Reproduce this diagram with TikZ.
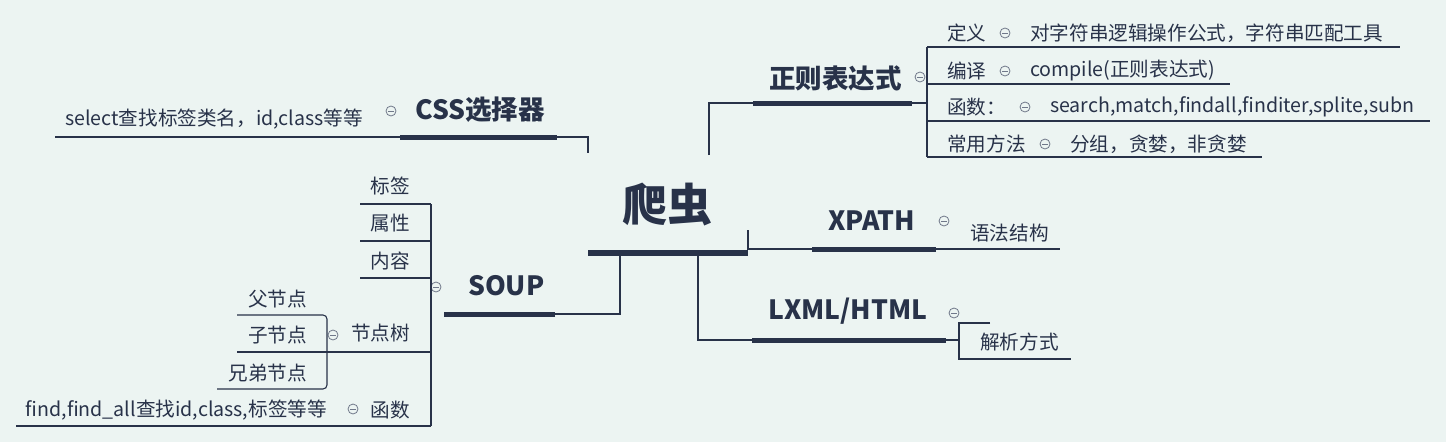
\documentclass[tikz,border=0pt]{standalone}
\usepackage{fontspec}
\setmainfont{Noto Sans CJK SC}
\definecolor{bg}{HTML}{ECF4F2}
\definecolor{ink}{HTML}{283249}
\definecolor{circ}{HTML}{70788A}
\begin{document}
\begin{tikzpicture}[x=1pt,y=-1pt,
 txt/.style={font=\fontsize{19.6}{22}\selectfont, text=ink, inner sep=0pt},
 mainlbl/.style={font=\fontsize{26.5}{28}\selectfont\bfseries, text=ink, inner sep=0pt},
 thinln/.style={draw=ink, line width=1.1pt},
 thickln/.style={draw=ink, line width=5pt},
 toggle/.style={circle, draw=circ, line width=0.8pt, minimum size=10pt, inner sep=0pt,
   path picture={\draw[circ,line width=0.8pt] ([xshift=-2.6pt]path picture bounding box.center) -- ([xshift=2.6pt]path picture bounding box.center);}}
]
\fill[bg] (0,0) rectangle (1446,442);
\useasboundingbox (0,0) rectangle (1446,442);

% ---------- root ----------
\node[font=\fontsize{45}{48}\selectfont\bfseries, text=ink, inner sep=0pt] (root) at (667,205) {爬虫};
\coordinate (rootL) at (588,253);
\coordinate (rootR) at (748,253);
\draw[ink, line width=6pt] (rootL) -- (rootR);

% ---------- CSS ----------
\node[mainlbl, anchor=west] (css) at (415,110) {CSS选择器};
\node[toggle] (cssT) at (391,111) {};
\node[txt, anchor=west] (sel) at (65,119) {select查找标签类名，id,class等等};
\coordinate (cssA) at (400,137);
\coordinate (cssB) at (557,137);
\coordinate (cssC) at (588,137);
\coordinate (cssD) at (588,153);
\coordinate (selL) at (55,137);
\draw[thinln] (selL) -- (cssA);
\draw[thickln] (cssA) -- (cssB);
\draw[thinln] (cssB) -- (cssC) -- (cssD);

% ---------- 正则表达式 ----------
\node[mainlbl, anchor=west] (re) at (769,78) {正则表达式};
\node[toggle] (reT) at (920,77) {};
\coordinate (reA) at (753,103);
\coordinate (reB) at (912,103);
\coordinate (reJ) at (709,103);
\coordinate (reRoot) at (709,155);
\coordinate (reBr) at (927,103);
\draw[thinln] (reRoot) -- (reJ) -- (reA);
\draw[thickln] (reA) -- (reB);
\draw[thinln] (reB) -- (reBr);
\coordinate (r1a) at (927,47);   \coordinate (r1b) at (1400,47);
\coordinate (r2a) at (927,84);   \coordinate (r2b) at (1230,84);
\coordinate (r3a) at (927,121);  \coordinate (r3b) at (1430,121);
\coordinate (r4a) at (927,157);  \coordinate (r4b) at (1262,157);
\draw[thinln] (r1a) -- (r4a);
\draw[thinln] (r1a) -- (r1b);
\draw[thinln] (r2a) -- (r2b);
\draw[thinln] (r3a) -- (r3b);
\draw[thinln] (r4a) -- (r4b);
\node[txt, anchor=west] (d1) at (947,33) {定义};
\node[toggle] (d1T) at (1005,33) {};
\node[txt, anchor=west] (d1v) at (1030,33) {对字符串逻辑操作公式，字符串匹配工具};
\node[txt, anchor=west] (d2) at (947,71) {编译};
\node[toggle] (d2T) at (1005,71) {};
\node[txt, anchor=west] (d2v) at (1030,71) {compile(正则表达式)};
\node[txt, anchor=west] (d3) at (947,107) {函数：};
\node[toggle] (d3T) at (1025,107) {};
\node[txt, anchor=west] (d3v) at (1050,107) {search,match,findall,finditer,splite,subn};
\node[txt, anchor=west] (d4) at (947,144) {常用方法};
\node[toggle] (d4T) at (1045,144) {};
\node[txt, anchor=west] (d4v) at (1070,144) {分组，贪婪，非贪婪};

% ---------- XPATH ----------
\node[mainlbl, anchor=west] (xp) at (828,221) {XPATH};
\node[toggle] (xpT) at (944,221) {};
\coordinate (xpRoot) at (748,230);
\coordinate (xpJ) at (748,249);
\coordinate (xpA) at (812,249);
\coordinate (xpB) at (936,249);
\coordinate (xpC) at (1060,249);
\draw[thinln] (xpRoot) -- (xpJ) -- (xpA);
\draw[thickln] (xpA) -- (xpB);
\draw[thinln] (xpB) -- (xpC);
\node[txt, anchor=west] (xpv) at (970,233) {语法结构};

% ---------- LXML/HTML ----------
\node[mainlbl, anchor=west] (lx) at (768,311) {LXML/HTML};
\node[toggle] (lxT) at (954,313) {};
\coordinate (lxRoot) at (698,256);
\coordinate (lxJ) at (698,340);
\coordinate (lxA) at (752,340);
\coordinate (lxB) at (946,340);
\coordinate (lxBr) at (959,340);
\coordinate (lxTa) at (990,323);
\coordinate (lxTb) at (959,323);
\coordinate (lxBa) at (959,359);
\coordinate (lxBb) at (1071,359);
\draw[thinln] (lxRoot) -- (lxJ) -- (lxA);
\draw[thickln] (lxA) -- (lxB);
\draw[thinln] (lxB) -- (lxBr);
\draw[thinln] (lxTa) -- (lxTb) -- (lxBa) -- (lxBb);
\node[txt, anchor=west] (lxv) at (980,342) {解析方式};

% ---------- SOUP ----------
\node[mainlbl, anchor=west] (sp) at (468,286) {SOUP};
\node[toggle] (spT) at (436,287) {};
\coordinate (spRoot) at (620,256);
\coordinate (spJ) at (620,314);
\coordinate (spA) at (555,314);
\coordinate (spB) at (444,314);
\draw[thinln] (spRoot) -- (spJ) -- (spA);
\draw[thickln] (spA) -- (spB);
\coordinate (s1) at (431,204);
\coordinate (s5) at (431,426);
\draw[thinln] (s1) -- (s5);
\coordinate (s1e) at (360,204);
\coordinate (s2) at (431,241); \coordinate (s2e) at (360,241);
\coordinate (s3) at (431,278); \coordinate (s3e) at (360,278);
\coordinate (s4) at (431,352); \coordinate (s4e) at (237,352);
\coordinate (s5e) at (16,426);
\draw[thinln] (s1) -- (s1e);
\draw[thinln] (s2) -- (s2e);
\draw[thinln] (s3) -- (s3e);
\draw[thinln] (s4) -- (s4e);
\draw[thinln] (s5) -- (s5e);
\node[txt, anchor=east] (t1) at (410,186) {标签};
\node[txt, anchor=east] (t2) at (410,223) {属性};
\node[txt, anchor=east] (t3) at (410,261) {内容};
\node[txt, anchor=east] (t4) at (410,333) {节点树};
\node[toggle] (t4T) at (333,335) {};
\node[txt, anchor=east] (t5) at (410,410) {函数};
\node[toggle] (t5T) at (353,409) {};
\node[txt, anchor=east] (t5v) at (327,410) {find,find\_all查找id,class,标签等等};
% node tree sub-branch
\coordinate (n1) at (237,315);
\coordinate (nbr1) at (327,315);
\coordinate (nbr2) at (327,389);
\coordinate (n3) at (217,389);
\draw[thinln, rounded corners=4pt] (n1) -- (nbr1) -- (nbr2) -- (n3);
\node[txt, anchor=east] (u1) at (307,299) {父节点};
\node[txt, anchor=east] (u2) at (307,335) {子节点};
\node[txt, anchor=east] (u3) at (307,373) {兄弟节点};
\end{tikzpicture}
\end{document}
